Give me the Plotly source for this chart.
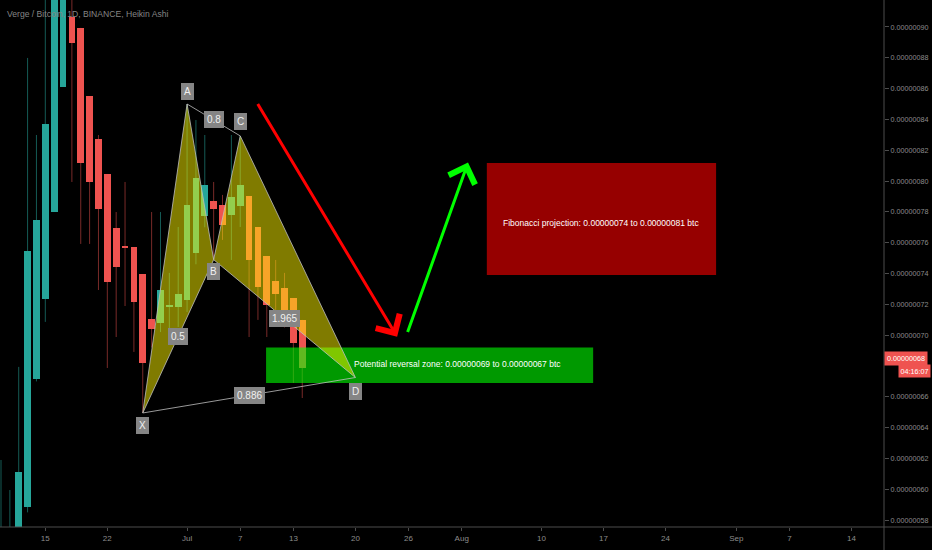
import numpy as np
import pandas as pd
import plotly.graph_objects as go

SAT = 1e-8  # prices below are in satoshi (1e-8 BTC)

# ---------------- data ----------------
dates = pd.date_range("2020-06-10", "2020-07-14", freq="D")
open_sat = [55.0, 55.5, 56.0, 58.85, 67.16, 72.35, 77.99, 86.11, 90.65, 89.94,
            85.52, 82.73, 80.46, 76.96, 75.72, 75.72, 73.97, 71.05, 70.79, 71.83,
            71.83, 72.28, 75.33, 77.74, 78.71, 78.45, 77.80, 78.38, 79.03, 77.02,
            75.14, 73.52, 73.06, 72.41, 70.99]
close_sat = [56.5, 57.0, 61.12, 75.46, 77.48, 83.71, 93.5, 95.0, 88.96, 81.17,
             79.94, 78.19, 73.45, 74.43, 75.66, 72.15, 68.20, 70.40, 72.93, 71.89,
             72.67, 78.45, 80.20, 79.75, 78.19, 77.15, 78.97, 79.75, 74.88, 73.13,
             71.96, 72.67, 71.12, 69.49, 67.87]
high_sat = [61.90, 59.95, 67.94, 87.99, 82.99, 93.0, 95.0, 97.0, 96.0, 89.94,
            85.52, 82.99, 80.46, 77.99, 79.94, 75.72, 73.97, 77.99, 77.99, 74.04,
            77.02, 85.0, 83.96, 82.99, 79.94, 79.10, 82.99, 82.93, 79.03, 77.02,
            75.14, 74.88, 74.04, 72.41, 70.99]
low_sat = [54.5, 55.0, 55.5, 58.5, 67.0, 70.86, 77.99, 86.11, 79.94, 75.92,
           75.92, 72.93, 67.87, 69.88, 71.89, 68.91, 64.95, 69.2, 70.2, 69.69,
           70.53, 71.5, 74.6, 77.0, 74.92, 76.18, 74.88, 77.02, 69.88, 70.99,
           69.88, 71.64, 70.5, 66.90, 65.92]

last_price_sat = 68.5
last_price_text = "0.00000068"
countdown_text = "04:16:07"

# XABCD pattern
pattern_names = ["X", "A", "B", "C", "D"]
pattern_dates = ["2020-06-26", "2020-07-01", "2020-07-04", "2020-07-07", "2020-07-20"]
pattern_sat = [64.95, 85.0, 74.9, 82.93, 67.25]
ratio_labels = [("0.8", 1, 3), ("0.5", 0, 2), ("1.965", 2, 4), ("0.886", 0, 4)]

# zones
zone_dates = ["2020-07-09 22:00", "2020-08-15 20:00"]
zone_sat = [66.9, 69.2]
zone_text = "Potential reversal zone: 0.00000069 to 0.00000067 btc"
zone_text_date = "2020-07-31 12:00"

fib_dates = ["2020-08-03 20:00", "2020-08-29 17:00"]
fib_sat = [73.91, 81.17]
fib_text = "Fibonacci projection: 0.00000074 to 0.00000081 btc"

# arrows (start -> tip)
red_arrow_dates = ["2020-07-08 21:00", "2020-07-24 17:00"]
red_arrow_sat = [85.1, 69.9]
green_arrow_dates = ["2020-07-25 20:00", "2020-08-01 17:00"]
green_arrow_sat = [70.1, 81.2]

# axes
x_tick_dates = ["2020-06-15", "2020-06-22", "2020-07-01", "2020-07-07", "2020-07-13",
                "2020-07-20", "2020-07-26", "2020-08-01", "2020-08-10", "2020-08-17",
                "2020-08-24", "2020-09-01", "2020-09-07", "2020-09-14"]
x_tick_text = ["15", "22", "Jul", "7", "13", "20", "26", "Aug", "10", "17", "24",
               "Sep", "7", "14"]
y_tick_sat = [58, 60, 62, 64, 66, 70, 72, 74, 76, 78, 80, 82, 84, 86, 88, 90]
x_range = ["2020-06-09 21:17", "2020-09-17 15:50"]
y_range_sat = [57.55, 91.75]

title_text = "Verge / Bitcoin, 1D, BINANCE, Heikin Ashi"

# ---------------- build ----------------
o = np.array(open_sat) * SAT
c = np.array(close_sat) * SAT
h = np.array(high_sat) * SAT
lo = np.array(low_sat) * SAT
up = c >= o

UP = "#26a69a"
DOWN = "#ef5350"
FONT = "Liberation Sans, Arial, sans-serif"

fig = go.Figure()

# wicks
for mask, col in [(up, "rgba(38,166,154,0.55)"), (~up, "rgba(239,83,80,0.5)")]:
    xs, ys = [], []
    for d, hh, ll, m in zip(dates, h, lo, mask):
        if m:
            xs += [d, d, None]
            ys += [ll, hh, None]
    fig.add_trace(go.Scatter(x=xs, y=ys, mode="lines", line=dict(color=col, width=1),
                             hoverinfo="skip", showlegend=False))

# bodies
base = np.minimum(o, c)
height = np.maximum(np.abs(o - c), 0.08 * SAT)
fig.add_trace(go.Bar(x=dates, y=height, base=base, width=0.76 * 86400000,
                     marker=dict(color=[UP if u else DOWN for u in up], line=dict(width=0)),
                     hoverinfo="skip", showlegend=False))

def rect(xd, ys, fill):
    fig.add_trace(go.Scatter(x=[xd[0], xd[1], xd[1], xd[0], xd[0]],
                             y=[ys[0] * SAT, ys[0] * SAT, ys[1] * SAT, ys[1] * SAT, ys[0] * SAT],
                             mode="lines", fill="toself", fillcolor=fill,
                             line=dict(width=0), hoverinfo="skip", showlegend=False))

# reversal zone
rect(zone_dates, zone_sat, "rgba(0,255,0,0.6)")

# pattern triangles
pd_dates = pd.to_datetime(pattern_dates)
p_y = np.array(pattern_sat) * SAT
edge = "rgba(190,190,190,0.8)"
for tri in [(0, 1, 2, 0), (2, 3, 4, 2)]:
    fig.add_trace(go.Scatter(x=[pd_dates[i] for i in tri], y=[p_y[i] for i in tri],
                             mode="lines", fill="toself", fillcolor="rgba(255,245,0,0.5)",
                             line=dict(color=edge, width=1), hoverinfo="skip", showlegend=False))
for a, b in [(0, 4), (1, 3)]:
    fig.add_trace(go.Scatter(x=[pd_dates[a], pd_dates[b]], y=[p_y[a], p_y[b]], mode="lines",
                             line=dict(color=edge, width=1), hoverinfo="skip", showlegend=False))

# fib projection box
rect(fib_dates, fib_sat, "#960000")

ann = []
# arrows
for ad, ay_, col in [(red_arrow_dates, red_arrow_sat, "#ff0000"),
                     (green_arrow_dates, green_arrow_sat, "#00ff00")]:
    ann.append(dict(x=ad[1], y=ay_[1] * SAT, ax=ad[0], ay=ay_[0] * SAT,
                    xref="x", yref="y", axref="x", ayref="y", text="",
                    showarrow=True, arrowhead=4, arrowsize=1.8, arrowwidth=3,
                    arrowcolor=col, standoff=0, startstandoff=0))

label_style = dict(bgcolor="#858585", bordercolor="#858585", borderpad=2,
                   font=dict(family=FONT, size=10, color="#f0f0f0"), showarrow=False)
shifts = {"X": -13, "A": 13, "B": -12, "C": 14, "D": -14}
for i, name in enumerate(pattern_names):
    ann.append(dict(x=pd_dates[i], y=p_y[i], text=name, yshift=shifts[name],
                    xref="x", yref="y", **label_style))
for txt, a, b in ratio_labels:
    mid_d = pd_dates[a] + (pd_dates[b] - pd_dates[a]) / 2
    mid_y = (p_y[a] + p_y[b]) / 2
    ann.append(dict(x=mid_d, y=mid_y, text=txt, xref="x", yref="y", **label_style))

ann.append(dict(x=zone_text_date, y=(zone_sat[0] + zone_sat[1]) / 2 * SAT, text=zone_text,
                xref="x", yref="y", showarrow=False, yshift=1,
                font=dict(family=FONT, size=8.5, color="#ffffff")))
fib_mid = pd.to_datetime(fib_dates[0]) + (pd.to_datetime(fib_dates[1]) - pd.to_datetime(fib_dates[0])) / 2
ann.append(dict(x=fib_mid, y=(fib_sat[0] + fib_sat[1]) / 2 * SAT - 0.25 * SAT, text=fib_text,
                xref="x", yref="y", showarrow=False,
                font=dict(family=FONT, size=8.5, color="#ffffff")))

# title
ann.append(dict(x=0, y=1, xref="paper", yref="paper", xanchor="left", yanchor="middle",
                xshift=5, yshift=-14, text=title_text, showarrow=False,
                font=dict(family=FONT, size=8.6, color="#858585")))

# last price labels
ann.append(dict(x=1, y=last_price_sat * SAT, xref="paper", yref="y", xanchor="left",
                text=last_price_text, showarrow=False, bgcolor="#ef5350", borderpad=2,
                font=dict(family=FONT, size=7.2, color="#ffffff")))
ann.append(dict(x=1, y=last_price_sat * SAT, xref="paper", yref="y", xanchor="right",
                xshift=47, yshift=-13, text=countdown_text, showarrow=False,
                bgcolor="#ef5350", borderpad=1.5,
                font=dict(family=FONT, size=7.2, color="#ffffff")))

shapes = [
    dict(type="line", xref="paper", yref="paper", x0=0, x1=1.06, y0=0, y1=0,
         line=dict(color="#4d4d4d", width=1)),
    dict(type="line", xref="paper", yref="paper", x0=1, x1=1, y0=-0.05, y1=1,
         line=dict(color="#4d4d4d", width=1)),
]

fig.update_layout(
    width=932, height=550,
    margin=dict(l=0, r=48, t=0, b=23),
    paper_bgcolor="#000000", plot_bgcolor="#000000",
    showlegend=False, hovermode=False, bargap=0,
    annotations=ann, shapes=shapes,
    font=dict(family=FONT, color="#8c8c8c"),
)
fig.update_xaxes(range=x_range, type="date", showgrid=False, zeroline=False, showline=False,
                 tickvals=x_tick_dates, ticktext=x_tick_text, ticks="outside", ticklen=3,
                 tickcolor="#4d4d4d", tickfont=dict(family=FONT, size=8, color="#8c8c8c"),
                 fixedrange=True)
fig.update_yaxes(range=[v * SAT for v in y_range_sat], side="right", showgrid=False,
                 zeroline=False, showline=False,
                 tickvals=[v * SAT for v in y_tick_sat], tickformat=".8f",
                 ticks="outside", ticklen=4, tickcolor="#4d4d4d",
                 tickfont=dict(family=FONT, size=7.2, color="#8c8c8c"), fixedrange=True)

fig.write_html("out.html", config={"displayModeBar": False},
               post_script="document.body.style.margin='0';document.body.style.background='#000';")
